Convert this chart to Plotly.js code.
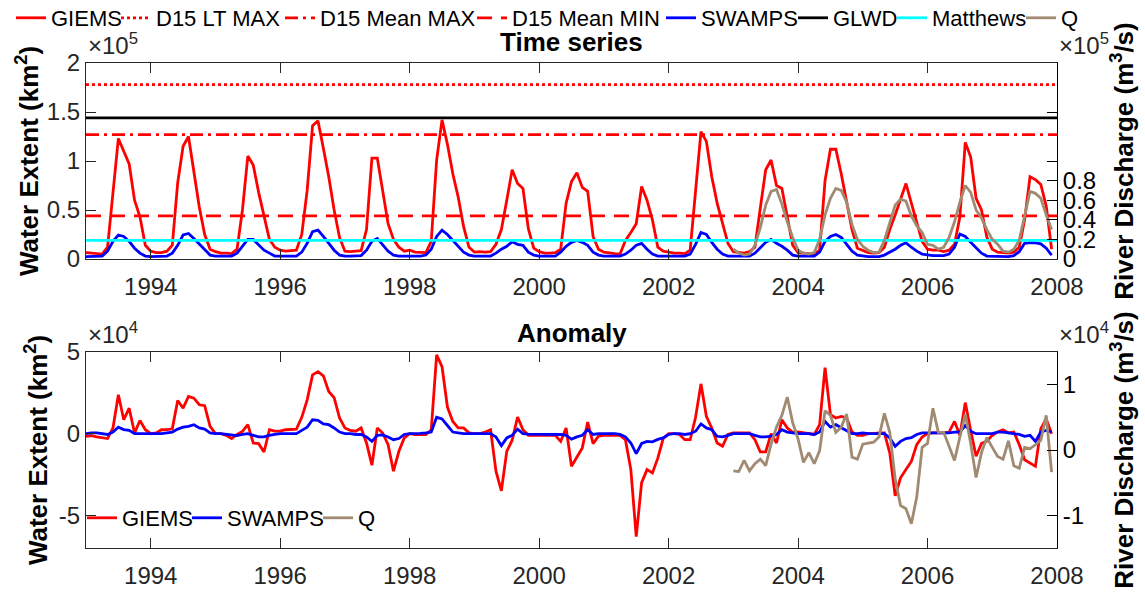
<!DOCTYPE html>
<html><head><meta charset="utf-8">
<script src="https://cdn.plot.ly/plotly-3.0.1.min.js"></script>
<style>html,body{margin:0;padding:0;background:#fff}#chart{width:1145px;height:599px}</style>
</head><body><div id="chart"></div>
<script>
// ---------------- DATA (monthly, Jan 1993 - Dec 2007) ----------------
const START_YEAR = 1993;
const X_LIMITS = [1993, 2008];
const YEAR_TICKS = [1994, 1996, 1998, 2000, 2002, 2004, 2006, 2008];

// GIEMS water extent, thousand km²
const giemsK = [
  6.5,6,5.5,5,12,65,123,110,97,60,43,14,
  8,6.5,6.5,8,14,78,115,125,91,53,25,10,
  7.5,6,6,5.5,10,50,105,96,68,45,20,12,
  9,8,8.5,9,25,70,136,141,113,84,50,22,
  8,7.5,8,8.5,30,103,103,70,36,20,12,8,
  9,7,6.5,6.5,18,101,142,117,87,63,33,12,
  7,7.5,7,7.5,15,30,60,91,77,72,31,11,
  7.5,6,6,6.5,10,57,79,88,73,69,23,10,
  7,6,5.5,5,19,27,36,74,60,40,12,8,
  7,6,6,5.5,9,70,130,120,84,57,35,16,
  7.5,6.5,6,7.5,12,52,91,101,75,72,43,14,
  6.5,6,5.5,5,9,80,112,112,87,60,30,11,
  9,6.5,6,6.5,12,30,45,62,77,57,38,18,
  10,9,9,7.5,9,15,43,119,104,62,50,22,
  10,7,6.5,6,7,12,40,84,81,76,54,10
];
// SWAMPS water extent, thousand km²
const swampsK = [
  2.5,2.5,2.5,3,8,18,24.5,23,18,11,6,3,
  2.5,2.5,2.5,3,6,14,24.5,26,21,15,9,4,
  3,3,3,3,6,13,20,20,14,9,6,3,
  3,3,3,3,7,16,28,29.5,23,16,9,4,
  3,3,3,3.5,9,18,21,14,8,4,3,3,
  3,3,3,4,10,23,29.5,25,19,13,7,4,
  3,3,3,3,6,10,13,17.5,15,14,7,4,
  3,3,3,3,7,13,17,19,17,14,7,4,
  3,3,3,3,5,9,14,16,10,5,3,3,
  3,3,3,3,5,15,27,25,17,10,5,3,
  3,3,3,3,6,12,17,20,16,13,9,4,
  3,3,3,3,7,18,23,25,22,15,8,4,
  3,2.5,2.5,2.5,4,7,10,14,16.5,12,8,5,
  4,3.5,3.5,3.5,5,12,25.5,23,17,11,6,3,
  3,2.5,2.5,2.5,3.5,7.5,16,16.7,16.5,15.5,11,4
];
// River discharge Q (x10^5 m³/s), Jan 2003 - Dec 2007
const Q_START_INDEX = 120;
const qE5 = [
  0.10,0.06,0.04,0.05,0.14,0.32,0.55,0.69,0.71,0.56,0.38,0.22,
  0.09,0.06,0.05,0.065,0.20,0.45,0.62,0.72,0.70,0.58,0.35,0.20,
  0.13,0.09,0.065,0.07,0.19,0.36,0.55,0.61,0.59,0.44,0.34,0.27,
  0.15,0.14,0.10,0.12,0.22,0.38,0.58,0.75,0.68,0.50,0.42,0.30,
  0.20,0.15,0.08,0.07,0.10,0.19,0.43,0.69,0.67,0.62,0.45,0.30
];
// Reference levels (km²)
const D15_LT_MAX = 178000;
const GLWD = 144000;
const D15_MEAN_MAX = 127000;
const D15_MEAN_MIN = 44000;
const MATTHEWS = 19000;

// Anomalies: GIEMS & SWAMPS (x10^4 km²), Q (x10^4 m³/s)
const giemsAnomE4 = [
  -0.16,-0.12,-0.2,-0.25,-0.3,0.35,2.38,0.85,1.56,0.04,0.81,0.24,
  0.0,0.05,0.24,0.25,0.3,2.03,1.56,2.28,2.17,1.77,1.71,0.45,
  0.0,0.0,-0.1,-0.3,-0.05,0.14,0.55,-0.57,-0.61,-1.12,0.24,0.15,
  0.15,0.24,0.25,0.28,1.0,2.07,3.6,3.8,3.54,2.58,2.2,0.96,
  0.35,0.2,0.15,0.35,-0.57,-1.93,0.35,0.04,-0.67,-2.3,-1.08,-0.26,
  0.0,-0.05,-0.05,-0.05,0.24,4.82,4.1,1.63,0.75,0.35,0.35,0.05,
  0.0,0.0,0.1,0.24,-2.3,-3.5,-1.08,-0.4,1.02,0.24,-0.1,-0.1,
  -0.1,-0.1,-0.1,-0.1,-0.47,0.35,-2.0,-1.42,-0.87,0.71,-0.61,-0.15,
  -0.1,-0.1,-0.1,-0.1,-0.37,-2.2,-6.3,-3.0,-2.2,-2.4,-1.5,-0.3,
  0.0,0.0,-0.05,-0.37,-0.37,1.0,3.05,1.06,0.35,-0.57,-0.77,-0.05,
  0.05,0.05,0.05,0.05,-0.37,-1.12,-1.12,0.0,-0.57,0.85,0.35,0.08,
  0.1,0.05,0.0,-0.05,0.55,4.04,1.16,0.96,1.06,0.96,0.1,-0.1,
  -0.1,0.0,0.0,0.05,0.05,-1.18,-3.8,-2.7,-2.2,-1.7,-0.67,-0.2,
  0.0,0.05,0.05,0.05,0.1,0.75,-0.1,1.9,0.2,-1.38,-0.6,-0.45,
  -0.1,0.1,0.24,0.05,0.1,-0.67,-1.6,-1.8,-2.0,0.3,0.9,0.0
];
const swampsAnomE4 = [
  0.0,0.05,0.05,0.0,-0.05,0.1,0.4,0.25,0.2,0.0,0.0,0.0,
  0.0,0.0,0.0,0.05,0.1,0.28,0.4,0.45,0.55,0.35,0.28,0.05,
  0.0,0.0,-0.05,-0.1,-0.12,-0.05,0.0,-0.1,-0.2,-0.2,-0.1,-0.05,
  0.0,0.0,0.0,0.0,0.2,0.4,0.85,0.82,0.6,0.55,0.35,0.1,
  0.0,0.0,-0.05,-0.05,-0.2,-0.47,-0.1,-0.08,-0.2,-0.37,-0.3,-0.05,
  0.0,0.0,0.02,0.05,0.1,1.0,0.9,0.5,0.1,0.05,0.0,0.0,
  0.0,0.0,0.0,0.0,-0.2,-0.73,-0.26,-0.1,0.28,0.0,-0.03,-0.03,
  -0.03,-0.03,-0.03,-0.05,-0.05,-0.1,-0.33,-0.2,-0.1,0.24,-0.05,0.0,
  0.0,0.0,0.0,-0.05,-0.2,-0.57,-1.22,-0.6,-0.47,-0.5,-0.35,-0.26,
  -0.05,0.0,0.0,-0.05,0.0,0.15,0.6,0.35,0.24,-0.16,-0.2,-0.1,
  0.0,0.0,0.0,0.0,-0.1,-0.2,-0.2,-0.15,-0.05,0.24,0.1,0.05,
  0.0,0.0,0.0,-0.05,0.1,0.75,0.4,0.55,0.35,0.15,0.0,0.0,
  0.05,0.0,0.0,0.0,0.0,-0.26,-0.77,-0.47,-0.3,-0.25,-0.05,0.05,
  0.05,0.05,0.05,0.05,0.05,0.1,0.1,0.5,0.15,0.0,0.0,-0.02,
  0.0,0.1,0.1,0.05,0.0,-0.05,-0.16,-0.1,-0.47,0.1,0.2,0.1
];
const qAnomE4 = [
  -0.32,-0.33,-0.16,-0.32,-0.21,-0.14,-0.24,0.09,0.35,0.53,0.81,0.42,
  0.17,-0.19,-0.04,-0.21,-0.01,0.6,0.53,0.27,0.35,0.55,-0.11,-0.14,
  0.09,0.1,0.12,0.2,0.56,0.27,-0.44,-0.85,-0.9,-1.13,-0.72,0.04,
  0.1,0.64,0.27,0.27,0.05,-0.16,0.2,0.55,0.1,-0.42,-0.04,0.19,
  0.04,-0.1,-0.14,0.14,-0.24,-0.28,0.04,0.02,0.08,0.15,0.53,-0.34
];

// Tick labels
const TOP_LEFT_TICKVALS = [0, 50000, 100000, 150000, 200000];
const TOP_LEFT_TICKTEXT = ['0', '0.5', '1', '1.5', '2'];
const TOP_RIGHT_TICKVALS = [0, 20000, 40000, 60000, 80000, 100000, 150000, 200000];
const TOP_RIGHT_TICKTEXT = ['0', '0.2', '0.4', '0.6', '0.8', '', '', ''];
const BOT_LEFT_TICKVALS = [-50000, 0, 50000];
const BOT_LEFT_TICKTEXT = ['-5', '0', '5'];
const BOT_RIGHT_TICKVALS = [-10000, 0, 10000];
const BOT_RIGHT_TICKTEXT = ['-1', '0', '1'];

// ---------------- CHART ----------------
const FONT = '"Liberation Sans", Arial, Helvetica, sans-serif';
const W = 1145, H = 599, ML = 86, MR = 88;
const PW = W - ML - MR;
const fx = p => (p - ML) / PW;        // pixel -> paper x
const fy = p => 1 - p / H;            // pixel -> paper y

const months = giemsK.map((_, i) => START_YEAR + i / 12);
const qMonths = months.slice(Q_START_INDEX, Q_START_INDEX + qE5.length);

const RED = '#ff0000', BLUE = '#0000ff', CYAN = '#00ffff', BLACK = '#000000', BROWN = '#a08a72';
const LW = 2.8;

function tr(name, x, y, color, dash, xa, ya, legend) {
  return {type: 'scatter', mode: 'lines', name, x, y, xaxis: xa, yaxis: ya, legend,
          line: {color, width: LW, dash: dash || 'solid'}, hoverinfo: 'skip'};
}
const flat = v => [v, v];

const data = [
  tr('GIEMS', months, giemsK.map(v => v * 1000), RED, null, 'x', 'y', 'legend'),
  tr('D15 LT MAX', X_LIMITS, flat(D15_LT_MAX), RED, '3px,3px', 'x', 'y', 'legend2'),
  tr('D15 Mean MAX', X_LIMITS, flat(D15_MEAN_MAX), RED, '13px,5px,3px,5px', 'x', 'y', 'legend3'),
  tr('D15 Mean MIN', X_LIMITS, flat(D15_MEAN_MIN), RED, '15px,9px', 'x', 'y', 'legend4'),
  tr('SWAMPS', months, swampsK.map(v => v * 1000), BLUE, null, 'x', 'y', 'legend5'),
  tr('GLWD', X_LIMITS, flat(GLWD), BLACK, null, 'x', 'y', 'legend6'),
  tr('Matthews', X_LIMITS, flat(MATTHEWS), CYAN, null, 'x', 'y', 'legend7'),
  tr('Q', qMonths, qE5.map(v => v * 1e5), BROWN, null, 'x', 'y2', 'legend8'),
  tr('GIEMS', months, giemsAnomE4.map(v => v * 1e4), RED, null, 'x2', 'y3', 'legend9'),
  tr('SWAMPS', months, swampsAnomE4.map(v => v * 1e4), BLUE, null, 'x2', 'y3', 'legend10'),
  tr('Q', qMonths, qAnomE4.map(v => v * 1e4), BROWN, null, 'x2', 'y4', 'legend11')
];

const AX = '#262626';
const tickFont = {family: FONT, size: 24, color: AX};
const titleFont = {family: FONT, size: 26, color: '#000'};

function xAxis(anchor) {
  return {domain: [0, 1], anchor, range: X_LIMITS, tickmode: 'array', tickvals: YEAR_TICKS,
          ticktext: YEAR_TICKS.map(String), ticks: 'inside', ticklen: 10, tickwidth: 1, tickcolor: AX,
          showline: true, linecolor: AX, linewidth: 1, mirror: 'ticks', showgrid: false, zeroline: false,
          tickfont: tickFont, ticklabelstandoff: 6, fixedrange: true};
}
function yLeft(domain, anchor, range, vals, text, standoff) {
  return {domain, anchor, range, tickmode: 'array', tickvals: vals, ticktext: text, ticks: 'inside',
          ticklen: 10, tickwidth: 1, tickcolor: AX, showline: true, linecolor: AX, linewidth: 1,
          showgrid: false, zeroline: false, tickfont: tickFont, fixedrange: true,
          title: {text: '<b>Water Extent (km<sup>2</sup>)</b>', font: titleFont, standoff}};
}
function yRight(overlay, anchor, range, vals, text, standoff) {
  return {overlaying: overlay, anchor, side: 'right', range, tickmode: 'array', tickvals: vals,
          ticktext: text, ticks: 'inside', ticklen: 10, tickwidth: 1, tickcolor: BLACK, showline: true,
          linecolor: BLACK, linewidth: 1, showgrid: false, zeroline: false,
          tickfont: {family: FONT, size: 24, color: '#000'}, fixedrange: true,
          title: {text: '<b>River Discharge (m<sup>3</sup>/s)</b>', font: titleFont, standoff}};
}

const TOP_DOMAIN = [fy(259), fy(63)];
const BOT_DOMAIN = [fy(548), fy(352)];

function legendAt(textX, yPx) {
  return {x: fx(textX - 40), xanchor: 'left', y: fy(yPx), yanchor: 'middle', orientation: 'h',
          bgcolor: 'rgba(0,0,0,0)', borderwidth: 0, font: {family: FONT, size: 22, color: '#000'}};
}
const TOP_LEGEND_TEXT_X = [51, 156, 320, 512, 701, 833, 932, 1061];
const BOT_LEGEND_TEXT_X = [122, 227, 358];

const layout = {
  width: W, height: H, margin: {l: ML, r: MR, t: 0, b: 0, autoexpand: false},
  paper_bgcolor: '#fff', plot_bgcolor: 'rgba(0,0,0,0)', font: {family: FONT, color: '#000'},
  showlegend: true,
  xaxis: xAxis('y'),
  xaxis2: xAxis('y3'),
  yaxis: yLeft(TOP_DOMAIN, 'x', [0, 200000], TOP_LEFT_TICKVALS, TOP_LEFT_TICKTEXT, 0),
  yaxis2: yRight('y', 'x', [0, 200000], TOP_RIGHT_TICKVALS, TOP_RIGHT_TICKTEXT, 19),
  yaxis3: yLeft(BOT_DOMAIN, 'x2', [-70000, 50000], BOT_LEFT_TICKVALS, BOT_LEFT_TICKTEXT, 3),
  yaxis4: yRight('y3', 'x2', [-15000, 15000], BOT_RIGHT_TICKVALS, BOT_RIGHT_TICKTEXT, 31),
  annotations: [
    {text: '<b>Time series</b>', xref: 'paper', yref: 'paper', x: 0.5, y: fy(42), xanchor: 'center', yanchor: 'middle', showarrow: false, font: titleFont},
    {text: '<b>Anomaly</b>', xref: 'paper', yref: 'paper', x: 0.5, y: fy(333), xanchor: 'center', yanchor: 'middle', showarrow: false, font: titleFont},
    {text: '×10<sup>5</sup>', xref: 'paper', yref: 'paper', x: 0, y: fy(61), xanchor: 'left', yanchor: 'bottom', showarrow: false, font: tickFont},
    {text: '×10<sup>5</sup>', xref: 'paper', yref: 'paper', x: 1, y: fy(61), xanchor: 'left', yanchor: 'bottom', showarrow: false, font: tickFont},
    {text: '×10<sup>4</sup>', xref: 'paper', yref: 'paper', x: 0, y: fy(350), xanchor: 'left', yanchor: 'bottom', showarrow: false, font: tickFont},
    {text: '×10<sup>4</sup>', xref: 'paper', yref: 'paper', x: 1, y: fy(350), xanchor: 'left', yanchor: 'bottom', showarrow: false, font: tickFont}
  ]
};
TOP_LEGEND_TEXT_X.forEach((tx, k) => { layout[k === 0 ? 'legend' : 'legend' + (k + 1)] = legendAt(tx, 18); });
BOT_LEGEND_TEXT_X.forEach((tx, k) => { layout['legend' + (k + 9)] = legendAt(tx, 518); });

Plotly.newPlot('chart', data, layout, {displayModeBar: false, staticPlot: true});
</script>
</body></html>
